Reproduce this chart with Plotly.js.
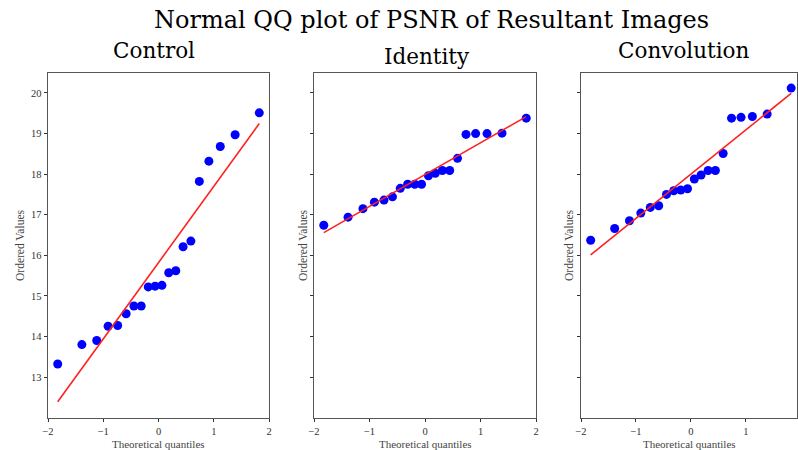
<!DOCTYPE html>
<html><head><meta charset="utf-8">
<script src="https://cdn.plot.ly/plotly-3.0.1.min.js"></script>
<style>html,body{margin:0;padding:0;background:#fff}#chart{width:798px;height:450px}</style>
</head><body><div id="chart"></div>
<script>
// Theoretical quantiles (Filliben positions, n = 20)
const quantiles = [-1.824,-1.387,-1.118,-0.912,-0.739,-0.586,-0.445,-0.313,-0.185,-0.062,
                   0.062,0.185,0.313,0.445,0.586,0.739,0.912,1.118,1.387,1.824];
const controlVals = [13.32,13.80,13.90,14.25,14.27,14.56,14.75,14.75,15.22,15.24,
                     15.26,15.57,15.62,16.21,16.35,17.82,18.32,18.68,18.97,19.51];
const identityVals = [16.74,16.94,17.15,17.31,17.36,17.44,17.65,17.75,17.75,17.75,
                      17.96,18.02,18.09,18.09,18.39,18.98,19.00,19.00,19.01,19.38];
const convolutionVals = [16.37,16.66,16.85,17.04,17.18,17.22,17.50,17.59,17.61,17.64,
                         17.88,17.98,18.09,18.09,18.51,19.38,19.40,19.42,19.48,20.12];
const panelTitles = ["Control","Identity","Convolution"];
const mainTitle = "Normal QQ plot of PSNR of Resultant Images";
const xTitle = "Theoretical quantiles";
const yTitle = "Ordered Values";
const xTickVals = [-2,-1,0,1,2];
const xTickText = ["\u22122","\u22121","0","1","2"];
const yTickVals = [13,14,15,16,17,18,19,20];

function fit(x,y){
  const n=x.length; let mx=0,my=0; for(let i=0;i<n;i++){mx+=x[i];my+=y[i];} mx/=n; my/=n;
  let sxy=0,sxx=0; for(let i=0;i<n;i++){sxy+=(x[i]-mx)*(y[i]-my); sxx+=(x[i]-mx)*(x[i]-mx);}
  const b=sxy/sxx, a=my-b*mx; return x.map(v=>a+b*v);
}

const series=[controlVals,identityVals,convolutionVals];
const traces=[];
series.forEach((vals,i)=>{
  const xa = i===0?'x':'x'+(i+1), ya = i===0?'y':'y'+(i+1);
  traces.push({x:quantiles,y:vals,mode:'markers',type:'scatter',xaxis:xa,yaxis:ya,
    marker:{color:'#0000ff',size:9},cliponaxis:false,showlegend:false,hoverinfo:'skip'});
  const f=fit(quantiles,vals);
  traces.push({x:[quantiles[0],quantiles[quantiles.length-1]],
    y:[f[0],f[f.length-1]],
    mode:'lines',type:'scatter',xaxis:xa,yaxis:ya,
    line:{color:'#ff2020',width:1.6},showlegend:false,hoverinfo:'skip'});
});

const W=798,H=450;
const xdom=[[48,269],[314,536],[581,797]];
const ydom=[(H-418)/H,(H-72.7)/H];
const serif='Liberation Serif, DejaVu Serif, serif';
const tickFont={family:serif,size:10.5,color:'#333'};
const layout={width:W,height:H,margin:{l:0,r:0,t:0,b:0},paper_bgcolor:'#fff',plot_bgcolor:'#fff',
  showlegend:false,annotations:[]};
const xRanges=[[-2,2],[-2,2],[-2,1.93]];
for(let i=0;i<3;i++){
  const sx=i===0?'':String(i+1);
  layout['xaxis'+sx]={domain:[xdom[i][0]/W,xdom[i][1]/W],range:xRanges[i],anchor:'y'+sx,
    tickvals:xTickVals,ticktext:xTickText,ticks:'outside',ticklen:3,tickcolor:'#333',
    showline:true,mirror:true,linecolor:'#555',linewidth:1,showgrid:false,zeroline:false,
    tickfont:tickFont,fixedrange:true};
  layout['yaxis'+sx]={domain:ydom,range:[11.99,20.5],anchor:'x'+sx,
    tickvals:yTickVals,showticklabels:i===0,ticks:'outside',ticklen:3.5,tickcolor:'#333',
    showline:true,mirror:true,linecolor:'#555',linewidth:1,showgrid:false,zeroline:false,
    tickfont:tickFont,fixedrange:true};
  const cx=(xdom[i][0]+xdom[i][1])/2/W;
  layout.annotations.push({text:xTitle,xref:'paper',yref:'paper',x:cx,y:(H-443.5)/H,
    xanchor:'center',yanchor:'middle',showarrow:false,
    font:{family:serif,size:11,color:'#444'}});
  layout.annotations.push({text:yTitle,xref:'paper',yref:'paper',x:[20,303,569][i]/W,y:(H-245)/H,
    xanchor:'center',yanchor:'middle',textangle:-90,showarrow:false,
    font:{family:serif,size:11.5,color:'#444'}});
  layout.annotations.push({text:panelTitles[i],xref:'paper',yref:'paper',x:[153.5,426.5,684][i]/W,
    y:(H-[51,56,51][i])/H,xanchor:'center',yanchor:'middle',showarrow:false,
    font:{family:'DejaVu Serif, serif',size:21.5,color:'#000'}});
}
layout.annotations.push({text:mainTitle,xref:'paper',yref:'paper',x:431.5/W,y:(H-20)/H,
  xanchor:'center',yanchor:'middle',showarrow:false,font:{family:'DejaVu Serif, serif',size:24,color:'#000'}});
Plotly.newPlot('chart',traces,layout,{staticPlot:true,displayModeBar:false});
</script></body></html>
